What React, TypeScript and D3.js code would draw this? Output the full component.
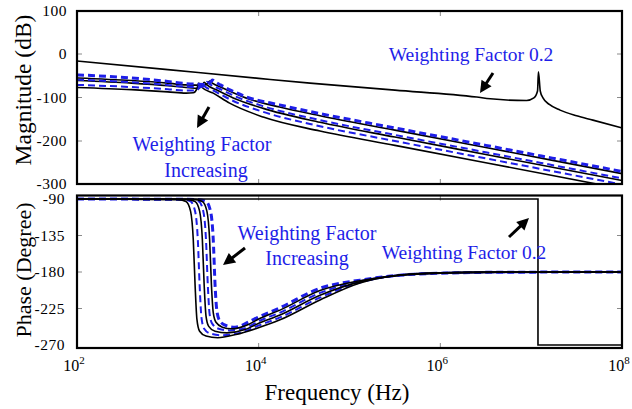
import React from 'react';
import * as d3 from 'd3';

type Pt = [number, number];

const W = 632;
const H = 409;

// frequency is stored as decade exponent (log10 Hz)
const xTickExps = [2, 4, 6, 8];
const magTicks = [100, 0, -100, -200, -300];
const phaseTicks = [-90, -135, -180, -225, -270];

// ---------------- Magnitude (dB) ----------------
const magK1: Pt[] = [[2.0,-77],[2.6,-82],[3.0,-87],[3.2,-90],[3.28,-89],[3.32,-80],[3.34,-67],[3.37,-76],[3.50,-90],[3.68,-113],[4.05,-145],[4.675,-177],[5.5,-210],[6.5,-250],[8.0,-310]];
const magB1: Pt[] = [[2.0,-71],[2.6,-76],[3.0,-81],[3.2,-84],[3.31,-84],[3.35,-76],[3.37,-66],[3.40,-73],[3.52,-86],[3.70,-106],[4.05,-133],[4.675,-166],[5.5,-200],[6.5,-240],[8.0,-300]];
const magK2: Pt[] = [[2.0,-61],[2.6,-67],[3.0,-73],[3.2,-77],[3.34,-79],[3.38,-72],[3.40,-65],[3.43,-71],[3.55,-84],[3.72,-101],[4.05,-125],[4.675,-157],[5.5,-191],[6.5,-231],[8.0,-291]];
const magB2: Pt[] = [[2.0,-59],[2.6,-65],[3.0,-71],[3.2,-75],[3.37,-76],[3.41,-70],[3.43,-64],[3.46,-69],[3.58,-81],[3.75,-98],[4.05,-120],[4.675,-152],[5.5,-186],[6.5,-226],[8.0,-286]];
const magK3: Pt[] = [[2.0,-55],[2.6,-61],[3.0,-67],[3.2,-71],[3.40,-72],[3.44,-67],[3.46,-62],[3.49,-67],[3.58,-76],[3.72,-89],[3.9,-104],[4.23,-122],[4.675,-142],[5.5,-175],[6.5,-215],[8.0,-275]];
const magB3: Pt[] = [[2.0,-48],[2.6,-55],[3.0,-63],[3.2,-68],[3.43,-70],[3.47,-65],[3.49,-60],[3.52,-64],[3.58,-71],[3.69,-83],[3.87,-99],[4.23,-117],[4.675,-137],[5.5,-170],[6.5,-210],[8.0,-270]];
const magW02: Pt[] = [[2.0,-16],[3.0,-36],[4.0,-56],[4.565,-67],[5.5,-83],[6.4,-99],[6.55,-103],[6.95,-107],[7.03,-101],[7.07,-85],[7.08,-41],[7.10,-85],[7.13,-101],[7.2,-116],[7.318,-129],[7.5,-142],[7.68,-152],[8.0,-170]];

// ---------------- Phase (degree) ----------------
const phK1: Pt[] = [[2.0,-90],[3.10,-90.5],[3.20,-93],[3.25,-105],[3.28,-140],[3.30,-196],[3.32,-238],[3.35,-253],[3.42,-259],[3.55,-261],[3.75,-257],[3.99,-249],[4.235,-239],[4.675,-214.5],[5.115,-193.6],[5.556,-183.7],[6.0,-181],[6.66,-180.2],[8.0,-180]];
const phB1: Pt[] = [[2.0,-90],[3.15,-90.5],[3.25,-93],[3.30,-105],[3.33,-140],[3.35,-196],[3.37,-236],[3.40,-250],[3.47,-256],[3.60,-258],[3.80,-255],[3.99,-246.4],[4.235,-236],[4.675,-211.6],[5.115,-192.9],[5.556,-183.8],[6.0,-181.1],[6.66,-180.2],[8.0,-180]];
const phK2: Pt[] = [[2.0,-90],[3.20,-90.5],[3.30,-93],[3.35,-105],[3.38,-140],[3.40,-196],[3.42,-234],[3.45,-247],[3.52,-253],[3.65,-255],[3.85,-251],[3.99,-243.8],[4.235,-233],[4.675,-208.7],[5.115,-192.2],[5.556,-183.8],[6.0,-181.2],[6.66,-180.2],[8.0,-180]];
const phB2: Pt[] = [[2.0,-90],[3.24,-90.5],[3.34,-93],[3.39,-105],[3.42,-140],[3.44,-196],[3.46,-232],[3.49,-244],[3.56,-250],[3.68,-252],[3.88,-248],[3.99,-241.2],[4.235,-230],[4.675,-205.8],[5.115,-191.4],[5.556,-183.9],[6.0,-181.3],[6.66,-180.3],[8.0,-180]];
const phK3: Pt[] = [[2.0,-90],[3.28,-90.5],[3.38,-93],[3.43,-105],[3.46,-140],[3.48,-196],[3.50,-230],[3.53,-242],[3.60,-248],[3.70,-250],[3.90,-244],[3.99,-238.6],[4.235,-227],[4.675,-202.9],[5.115,-190.7],[5.556,-184],[6.0,-181.4],[6.66,-180.3],[8.0,-180]];
const phB3: Pt[] = [[2.0,-90],[3.32,-90.5],[3.42,-93],[3.47,-105],[3.50,-140],[3.52,-196],[3.54,-228],[3.57,-240],[3.64,-246],[3.74,-248],[3.90,-241],[3.99,-236],[4.235,-224],[4.675,-200],[5.115,-190],[5.556,-184],[6.0,-181.5],[6.66,-180.3],[8.0,-180]];
const phW02: Pt[] = [[2.0,-90],[7.075,-90],[7.075,-270],[8.0,-270]];

const BLUE = '#1e1ee8';
const FONT = '"Liberation Serif", "Times New Roman", Times';

function Arrow({ x1, y1, x2, y2 }: { x1: number; y1: number; x2: number; y2: number }) {
  const dx = x2 - x1, dy = y2 - y1;
  const L = Math.hypot(dx, dy);
  const ux = dx / L, uy = dy / L;
  const hl = 12, hw = 6;
  const bx = x2 - ux * hl, by = y2 - uy * hl;
  const px = -uy, py = ux;
  return (
    <g>
      <line x1={x1} y1={y1} x2={bx + ux * 1} y2={by + uy * 1} stroke="#000" strokeWidth={3} />
      <polygon points={`${x2},${y2} ${bx + px * hw},${by + py * hw} ${bx - px * hw},${by - py * hw}`} fill="#000" />
    </g>
  );
}

function T(props: any) {
  const { children, ...rest } = props;
  return <text {...rest} style={{ fontFamily: FONT }}>{children}</text>;
}

export default function App() {
  const left = 77, right = 622;
  const mTop = 11, mBot = 184;
  const pTop = 195.5, pBot = 348;
  const x = d3.scaleLog().domain([1e2, 1e8]).range([left, right]);
  const yM = d3.scaleLinear().domain([-300, 100]).range([184.5, 10.5]);
  const yP = d3.scaleLinear().domain([-270, -90]).range([345, 199]);

  const lineM = d3.line<Pt>().x(d => x(Math.pow(10, d[0]))).y(d => yM(d[1])).curve(d3.curveMonotoneX);
  const lineP = d3.line<Pt>().x(d => x(Math.pow(10, d[0]))).y(d => yP(d[1])).curve(d3.curveMonotoneX);
  const lineLinP = d3.line<Pt>().x(d => x(Math.pow(10, d[0]))).y(d => yP(d[1]));

  const blackM = [magK1, magK2, magK3];
  const blueM = [magB1, magB2, magB3];
  const blackP = [phK1, phK2, phK3];
  const blueP = [phB1, phB2, phB3];

  const tickColor = '#8a8a8a';
  const innerX = [1e4, 1e6];

  return (
    <svg width={W} height={H} style={{ position: 'absolute', left: 0, top: 0, background: '#fff' }}>
      <defs>
        <clipPath id="clipM"><rect x={left} y={mTop} width={right - left} height={mBot - mTop} /></clipPath>
        <clipPath id="clipP"><rect x={left} y={pTop} width={right - left} height={pBot - pTop} /></clipPath>
      </defs>

      {/* ticks */}
      {innerX.map(v => (
        <g key={'tx' + v} stroke={tickColor} strokeWidth={1}>
          <line x1={x(v)} x2={x(v)} y1={mTop} y2={mTop + 5} />
          <line x1={x(v)} x2={x(v)} y1={mBot} y2={mBot - 5} />
          <line x1={x(v)} x2={x(v)} y1={pTop} y2={pTop + 5} />
          <line x1={x(v)} x2={x(v)} y1={pBot} y2={pBot - 5} />
        </g>
      ))}
      {magTicks.slice(1, 4).map(v => (
        <g key={'tm' + v} stroke={tickColor} strokeWidth={1}>
          <line x1={left} x2={left + 5} y1={yM(v)} y2={yM(v)} />
          <line x1={right} x2={right - 5} y1={yM(v)} y2={yM(v)} />
        </g>
      ))}
      {phaseTicks.slice(1, 4).map(v => (
        <g key={'tp' + v} stroke={tickColor} strokeWidth={1}>
          <line x1={left} x2={left + 5} y1={yP(v)} y2={yP(v)} />
          <line x1={right} x2={right - 5} y1={yP(v)} y2={yP(v)} />
        </g>
      ))}

      {/* magnitude curves */}
      <g clipPath="url(#clipM)" fill="none">
        {blackM.map((d, i) => <path key={'km' + i} d={lineM(d) || ''} stroke="#000" strokeWidth={1.6} />)}
        {blueM.map((d, i) => <path key={'bm' + i} d={lineM(d) || ''} stroke={BLUE} strokeWidth={i === 2 ? 3 : 2} strokeDasharray="7,4" />)}
        <path d={lineM(magW02) || ''} stroke="#000" strokeWidth={1.6} />
      </g>

      {/* phase curves: blue below black so the -180 plateau reads black */}
      <g clipPath="url(#clipP)" fill="none">
        {blueP.map((d, i) => <path key={'bp' + i} d={lineP(d) || ''} stroke={BLUE} strokeWidth={i === 2 ? 3 : 2} strokeDasharray="7,4" />)}
        {blackP.map((d, i) => <path key={'kp' + i} d={lineP(d) || ''} stroke="#000" strokeWidth={1.6} />)}
        <path d={lineLinP(phW02) || ''} stroke="#000" strokeWidth={1.6} />
      </g>

      {/* frames */}
      <rect x={left} y={mTop} width={right - left} height={mBot - mTop} fill="none" stroke="#000" strokeWidth={2.2} />
      <rect x={left} y={pTop} width={right - left} height={pBot - pTop} fill="none" stroke="#000" strokeWidth={2.2} />

      {/* y tick labels */}
      {magTicks.map(v => (
        <T key={'lm' + v} x={67} y={yM(v) + (v === -300 ? -1 : 0)} dy="0.35em" textAnchor="end" fontSize={15.5} letterSpacing={0.5}>{v}</T>
      ))}
      {phaseTicks.map(v => (
        <T key={'lp' + v} x={65} y={yP(v)} dy="0.35em" textAnchor="end" fontSize={15.5} letterSpacing={0.5}>{v}</T>
      ))}

      {/* x tick labels */}
      {xTickExps.map(e => (
        <T key={'lx' + e} x={x(Math.pow(10, e)) - 3} y={371} textAnchor="middle" fontSize={16}>
          10<tspan fontSize={11} dy={-7}>{e}</tspan>
        </T>
      ))}

      {/* axis labels */}
      <T x={337} y={400} textAnchor="middle" fontSize={23}>Frequency (Hz)</T>
      <T transform={`translate(31,90) rotate(-90)`} textAnchor="middle" fontSize={23.5}>Magnitude (dB)</T>
      <T transform={`translate(31,270) rotate(-90)`} textAnchor="middle" fontSize={22}>Phase (Degree)</T>

      {/* annotations */}
      <g fill={BLUE} textAnchor="middle">
        <T x={471} y={61} fontSize={19.5}>Weighting Factor 0.2</T>
        <T x={202} y={151} fontSize={20}>Weighting Factor</T>
        <T x={206} y={177} fontSize={20}>Increasing</T>
        <T x={307} y={240} fontSize={20}>Weighting Factor</T>
        <T x={307} y={265} fontSize={20}>Increasing</T>
        <T x={464} y={259} fontSize={19.5}>Weighting Factor 0.2</T>
      </g>
      <Arrow x1={209} y1={107} x2={197} y2={128} />
      <Arrow x1={493} y1={73} x2={480} y2={93} />
      <Arrow x1={245} y1={248} x2={223} y2={265} />
      <Arrow x1={509} y1={237} x2={529} y2={218} />
    </svg>
  );
}
